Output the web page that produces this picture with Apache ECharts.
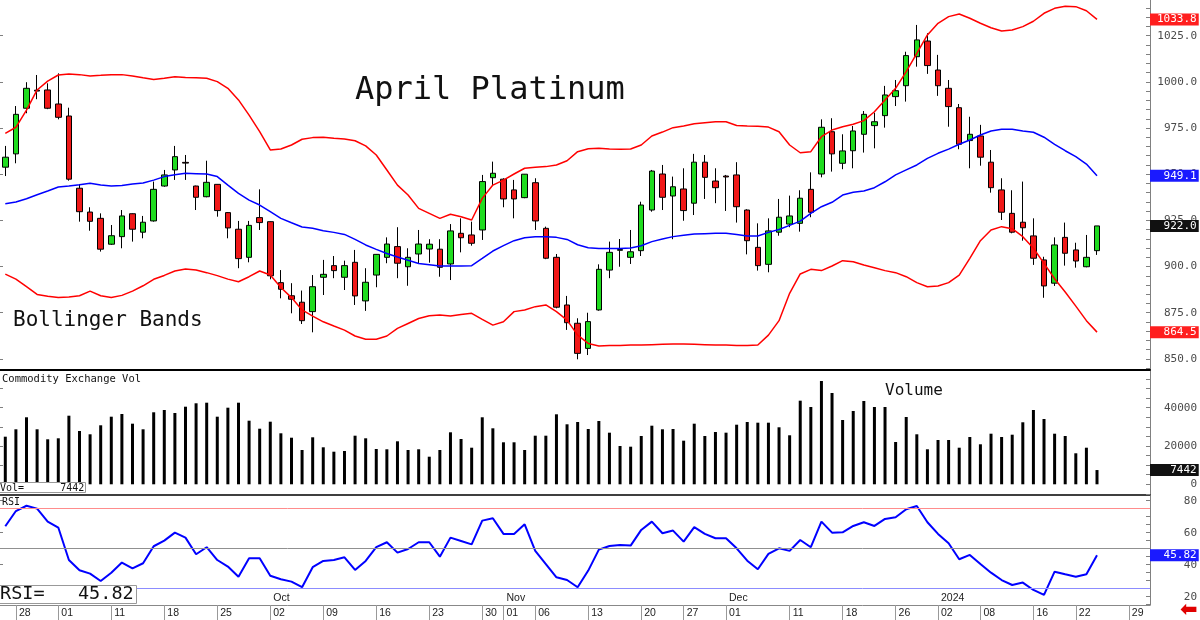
<!DOCTYPE html>
<html style="height: 100%">

<head>
    <meta charset="utf-8">
    <script src="https://cdn.jsdelivr.net/npm/echarts@6.0.0/dist/echarts.min.js"></script>
</head>

<body style="height: 100%; margin: 0; background: #fff">
    <div id="main" style="width: 1200px;height:620px;"></div>
    <script type="text/javascript">
        // trading calendar (exchange holidays left out)
        var holidays = ['2023-09-04', '2023-11-23', '2023-12-25', '2024-01-01', '2024-01-15'];
        var dates = [];
        for (var t = Date.UTC(2023, 7, 25); dates.length < 109; t += 86400000) {
            var d = new Date(t), s = d.toISOString().slice(0, 10);
            if (d.getUTCDay() % 6 !== 0 && holidays.indexOf(s) < 0) dates.push(s);
        }

        var tickDays = ['2023-08-28', '2023-09-01', '2023-09-11', '2023-09-18', '2023-09-25', '2023-10-02',
            '2023-10-09', '2023-10-16', '2023-10-23', '2023-10-30', '2023-11-01', '2023-11-06', '2023-11-13',
            '2023-11-20', '2023-11-27', '2023-12-01', '2023-12-11', '2023-12-18', '2023-12-26', '2024-01-02',
            '2024-01-08', '2024-01-16', '2024-01-22', '2024-01-29'];
        var monthDays = ['2023-10-02', '2023-11-01', '2023-12-01', '2024-01-02'];
        var monthNames = ['Oct', 'Nov', 'Dec', '2024'];

        var priceLabels = [850, 875, 900, 925, 950, 975, 1000, 1025];
        var volLabels = [0, 20000, 40000];
        var rsiLabels = [20, 40, 60, 80];

        // [open, close, low, high]
        var ohlc = [
            [953.8, 959.2, 949, 965.3], [961, 982.4, 955.9, 986.9], [985.7, 996.5, 983, 999.8], [995.5, 995, 990.6, 1003.7],
            [995.6, 985.7, 985.2, 999.2], [988, 980.8, 979.7, 1004.6], [981.5, 947.3, 946.5, 986], [942.4, 929.7, 924.3, 944.7],
            [929.5, 924.5, 919.4, 932.1], [926.1, 909.4, 908.1, 928.8], [912.1, 916.7, 911.7, 922.5], [916.2, 927.4, 909.9, 930.6],
            [928.6, 920.2, 913.5, 928.8], [918.6, 924, 915.3, 927.4], [924.7, 941.8, 924.3, 946], [943.6, 949.6, 943.2, 952.3],
            [952.3, 959.5, 946.9, 965.3], [956.4, 956, 946.9, 960.4], [943.6, 937.5, 930.6, 943.8], [937.8, 945.6, 937.5, 957.3],
            [944.5, 930.3, 927, 944.6], [929.2, 920.9, 915.3, 929.5], [920.2, 904.3, 899.1, 924.7], [905, 922.3, 902.3, 924.7],
            [926.5, 923.8, 919.8, 941.8], [924.3, 895, 893.1, 924.5], [891.3, 887.7, 882.8, 898.1], [884.2, 882.3, 874.7, 891],
            [880.7, 870.7, 868.9, 887], [875.6, 889.1, 864.4, 895.4], [894.2, 895.8, 884.6, 903.6], [900.5, 897.8, 893.7, 905.7],
            [894.2, 900.5, 887.3, 903.2], [902.3, 884.1, 879.2, 909], [881.4, 891.5, 876, 899.1], [895.4, 906.6, 888.8, 906.8],
            [905, 912.2, 901.8, 915.8], [910.8, 901.8, 893.7, 921.3], [899.9, 905, 889.6, 909.9], [906.8, 912.2, 901.8, 919.8],
            [909.5, 912.1, 902.1, 914.8], [909.4, 899.6, 894.5, 914.8], [901.4, 919.3, 892.7, 923], [918, 915.6, 907.7, 926.1],
            [917.1, 912.6, 911.3, 924.3], [919.8, 946, 914.4, 949.6], [948.1, 950.5, 944.2, 956.8], [947.3, 936.6, 932.1, 947.8],
            [941.5, 936.6, 926.1, 946.9], [937.3, 950, 937, 950.1], [945.4, 924.7, 919.8, 947.8], [920.7, 904.5, 904, 921.6],
            [905, 878, 877.4, 906.8], [879.2, 869.6, 865.7, 884.1], [869.3, 853, 849.8, 872], [855.7, 870.2, 852.1, 875],
            [876.5, 898.5, 876.1, 901.2], [898.1, 907.7, 893.7, 913.5], [908.8, 909.2, 899.9, 914.9], [905, 908, 901.4, 919.8],
            [908.6, 933.3, 905.7, 935.1], [930.6, 951.7, 929.7, 952.3], [950.1, 937.5, 930.6, 955], [938.2, 943.2, 914.8, 948.7],
            [942, 930.3, 924.8, 953.2], [934.3, 956.5, 927.9, 961], [956.5, 948.3, 936.6, 960.4], [946.3, 942.7, 934.3, 953.2],
            [949, 948.5, 930.1, 949.6], [949.6, 932.4, 923.8, 956.5], [930.6, 914, 906.6, 931], [910.4, 900.5, 897.8, 923.4],
            [901.2, 919.3, 896.9, 926.1], [918.6, 926.7, 916.7, 936.6], [923, 927.4, 921.3, 938.4], [923.4, 937, 918.9, 941.3],
            [941.8, 929.4, 926.7, 951], [950.1, 975.4, 948.3, 979.7], [973, 961, 951.4, 980.3], [955.9, 962.6, 952.7, 971.6],
            [962.7, 973.4, 953.2, 976.1], [971.6, 982.4, 961.7, 984.2], [976.3, 978.4, 964, 983.3], [981.7, 992.9, 975.2, 997.8],
            [992, 995.2, 986.9, 1001], [997.9, 1014.2, 989.3, 1016.3], [1013.6, 1022.7, 1008.2, 1030.8], [1022.1, 1008.8, 1004.3, 1026.3],
            [1006.4, 997.9, 992.4, 1014.6], [996.5, 986.6, 975.7, 1001], [986, 966.2, 963.5, 988], [968.2, 971.6, 953.2, 981.1],
            [970.7, 959.2, 954.6, 976.7], [956.5, 942.7, 940, 963.1], [941.5, 929.4, 925.2, 947.8], [928.8, 918.6, 918, 941.3],
            [924, 921, 914, 946], [916.6, 904.5, 900.9, 926.1], [903.6, 889.5, 883.1, 905.3], [891, 911.7, 889.5, 915.8],
            [915.8, 907.2, 900.5, 923.8], [909, 903, 899.4, 912.9], [899.9, 905, 899.6, 917.1], [908.6, 922, 906.3, 922]
        ];

        var upper = [972.1, 975.4, 984.7, 995.6, 1000.4, 1003.7, 1004.2, 1003.9, 1003.2, 1003.5,
            1003.9, 1003.9, 1003.2, 1002.2, 1001.3, 1001.9, 1002.8, 1002.4, 1002.2, 1001.9,
            1000.1, 996.5, 990.2, 982, 973, 963.1, 963.6, 965.8, 968.9, 969.8,
            970, 969.4, 969.1, 968.1, 965.3, 960.4, 952.3, 944.1, 938.7, 931.5,
            928.8, 926.1, 928.3, 927, 925.2, 936.9, 944.1, 946.8, 950.1, 953.2,
            953.7, 954.1, 955, 957.3, 962.2, 963.8, 964, 963.6, 963.5, 963.6,
            965.8, 970.7, 972.8, 975.2, 976.1, 977.3, 977.9, 978.4, 978.4, 976.4,
            976.1, 975.9, 975.5, 973, 965.8, 961.6, 962.2, 970.3, 973.9, 975.7,
            977, 979, 983.8, 990.2, 996.5, 1005.5, 1015.4, 1025.4, 1031.7, 1035.3,
            1036.7, 1034.4, 1031.7, 1029.3, 1027.5, 1028.1, 1029.9, 1032.8, 1037.1, 1039.8,
            1040.9, 1040.7, 1038.5, 1033.8];
        var middle = [934, 934.9, 936.7, 938.9, 940.9, 943.1, 943.6, 944.3, 945.1, 944.1,
            943.6, 943.9, 944.7, 945.2, 946.8, 948.7, 949.7, 950.5, 950.3, 950.1,
            948.7, 944.1, 939.6, 936, 933.3, 929.7, 926.1, 923.7, 921.4, 920.7,
            919.4, 918.5, 917.4, 914.7, 911.7, 909.3, 907.1, 905.2, 903.4, 901.7,
            901, 900.3, 900.3, 900.3, 900.5, 904.4, 908.4, 911.3, 914, 915.6,
            916.2, 916.2, 915.8, 914.7, 911.8, 910.2, 909.8, 909.8, 909.8, 910,
            911.3, 913.5, 914.9, 916.2, 916.9, 917.6, 917.8, 918, 918, 917.4,
            916.5, 916.5, 918.5, 920.1, 922.3, 924.6, 928.8, 932.4, 934.8, 938.7,
            940.2, 940.9, 942.7, 945.9, 949.6, 952.3, 955, 958.6, 961.3, 963.6,
            966.2, 968.5, 971.2, 973.4, 974.3, 974.3, 973.4, 972.7, 970, 966.2,
            962.7, 959.5, 955.5, 949.1];
        var lower = [895.9, 893.2, 889.1, 884.9, 883.9, 883.2, 883.5, 884.2, 886.7, 884.2,
            883.2, 884.4, 886.7, 889.6, 893.1, 895.2, 897.6, 898.7, 898.1, 896.7,
            895.1, 893.2, 891.8, 894.5, 897.6, 895.4, 888.7, 883.2, 876.5, 873.2,
            870.1, 867.8, 865.6, 862.4, 860.6, 860.6, 862.4, 866.5, 869.2, 871.9,
            873.4, 873.8, 873.2, 874.1, 874.7, 871.4, 868.3, 870.1, 875.6, 876.5,
            878.3, 879.2, 875.6, 871, 862.9, 858.4, 857, 857.2, 857.3, 857.5,
            857.5, 857.7, 857.9, 858.1, 858.1, 857.9, 857.7, 857.5, 857.5, 857.3,
            857.2, 857.5, 862.9, 870.7, 885.5, 896, 898.5, 897.8, 900.3, 903.2,
            902.6, 900.8, 899.4, 897.8, 896.7, 894.5, 891.3, 889.1, 889.5, 891.3,
            895.4, 904.4, 914, 919.8, 921.6, 920.5, 916.2, 909.9, 901.7, 893.4,
            886.2, 878.6, 870.7, 864.5];

        var volume = [24860, 28720, 34990, 28720, 23500, 24020, 35820, 27830, 26110, 30810,
            35300, 36710, 31650, 28720, 37600, 38800, 37230, 40520, 42300, 42610,
            35300, 40000, 42610, 33210, 29030, 32690, 26630, 24330, 17910, 24540,
            19320, 17020, 17390, 25380, 24020, 18430, 18280, 22450, 17910, 18280,
            14410, 17910, 27150, 23660, 19110, 34990, 29240, 21930, 21930, 17910,
            25380, 25380, 36550, 31330, 32530, 28880, 33050, 26950, 20000, 19640,
            25220, 30600, 28720, 28880, 22770, 31650, 25220, 27310, 26950, 31120,
            32530, 32170, 32170, 29770, 25590, 43660, 40370, 53940, 47680, 33580,
            38280, 43500, 40370, 40370, 22090, 35140, 26110, 18280, 23130, 23130,
            19110, 24700, 20890, 26420, 24700, 25900, 32380, 38800, 34100, 26420,
            25220, 16190, 19110, 7442];

        var rsi = [64, 73.5, 76.8, 75, 66.9, 63.2, 42.9, 36.5, 34.4, 29.8,
            35, 41.3, 37.7, 40.9, 51.5, 55, 60, 56.9, 46.5, 50.9,
            42.9, 38.8, 32.5, 44, 44, 33.1, 30.9, 29.4, 25.9, 38.4,
            42.3, 42.9, 44.6, 36.7, 42.3, 50.9, 54, 47.5, 49.8, 54,
            54, 45, 56.9, 54.8, 52.7, 67.5, 69, 59.2, 59.2, 65.2,
            48.6, 40.4, 32.1, 30.4, 25.9, 36.3, 49.4, 51.7, 52.3, 51.9,
            61.7, 66.9, 59.6, 61.3, 54.4, 63.4, 59.2, 56.5, 56.5, 50.2,
            42.5, 37.1, 46.7, 50.2, 48.6, 55.4, 50.9, 66.9, 60, 60.2,
            64.2, 66.5, 64.2, 68.6, 69.6, 74.6, 76.7, 66.5, 59.2, 53.4,
            43.4, 46.1, 40.4, 35, 30.4, 27.3, 28.8, 24.2, 21.1, 35.6,
            34, 32.5, 34, 45.82];

        var mono = '"DejaVu Sans Mono", monospace';
        var sans = '"Liberation Sans", Arial, sans-serif';
        var last = ohlc.length - 1;
        var tickIdx = tickDays.map(function (d) { return dates.indexOf(d); });
        var monthIdx = monthDays.map(function (d) { return dates.indexOf(d); });

        function steps(a, b, st) {
            var out = [];
            for (var v = a; v <= b; v += st) out.push(v);
            return out;
        }
        function line(arr) {
            return arr.map(function (v, i) { return [i, v]; });
        }
        // value tag sitting on the right axis
        function tag(value, bg, digits) {
            return {
                yAxis: value,
                lineStyle: { color: 'rgba(0,0,0,0)', width: 0 },
                label: {
                    show: true, position: 'end', distance: 0,
                    formatter: function () { return value.toFixed(digits).padStart(6); },
                    backgroundColor: bg, color: '#fff', fontFamily: mono, fontSize: 11,
                    padding: [1, 2, 0, 7], lineHeight: 11
                }
            };
        }
        function marks(items) {
            return { silent: true, symbol: ['none', 'none'], animation: false, data: items };
        }
        function rightAxis(grid, min, max, labels, ticks, fmt) {
            return {
                type: 'value', gridIndex: grid, position: 'right', min: min, max: max,
                axisLine: { show: true, onZero: false, lineStyle: { color: '#808080' } },
                axisTick: { show: true, inside: true, length: 4, customValues: ticks, lineStyle: { color: '#808080' } },
                axisLabel: {
                    customValues: labels, formatter: fmt, align: 'right', margin: 47,
                    color: '#4a4a4a', fontFamily: mono, fontSize: 11
                },
                splitLine: { show: false }
            };
        }
        function leftAxis(grid, min, max, ticks) {
            return {
                type: 'value', gridIndex: grid, position: 'left', min: min, max: max,
                axisLine: { show: false, onZero: false },
                axisTick: { show: true, inside: true, length: 3, customValues: ticks, lineStyle: { color: '#808080' } },
                axisLabel: { show: false },
                splitLine: { show: false }
            };
        }
        function xAxisFor(grid, lineColor, lineWidth) {
            return {
                type: 'value', gridIndex: grid, position: 'bottom', min: -0.5, max: 108,
                axisLine: { show: true, onZero: false, lineStyle: { color: lineColor, width: lineWidth } },
                axisTick: { show: false }, axisLabel: { show: false }, splitLine: { show: false }
            };
        }
        function text(str, left, top, size, extra) {
            var o = {
                text: str, left: left, top: top, padding: 0,
                textStyle: { fontFamily: mono, fontSize: size, fontWeight: 'normal', color: '#111' }
            };
            for (var k in extra) o[k] = extra[k];
            return o;
        }

        var xRsi = xAxisFor(2, '#888', 1);
        xRsi.axisTick = { show: true, customValues: tickIdx, length: 15, lineStyle: { color: '#999' } };
        xRsi.axisLabel = {
            show: true, customValues: tickIdx, align: 'left', padding: [0, 0, 0, 3], margin: 3,
            formatter: function (v) { return dates[Math.round(v)].slice(8, 10); },
            color: '#222', fontFamily: sans, fontSize: 10.5
        };
        var xMonth = xAxisFor(2, '#888', 1);
        xMonth.axisLine = { show: false, onZero: false };
        xMonth.axisLabel = {
            show: true, inside: true, customValues: monthIdx, align: 'left', padding: [0, 0, 0, 3], margin: 1,
            formatter: function (v) { return monthNames[monthIdx.indexOf(Math.round(v))]; },
            color: '#222', fontFamily: sans, fontSize: 10.5
        };

        var myChart = echarts.init(document.getElementById('main'));
        myChart.setOption({
            animation: false,
            backgroundColor: '#fff',
            title: [
                text('April Platinum', 355, 75, 32),
                text('Bollinger Bands', 13, 310, 21),
                text('Commodity Exchange Vol', 2, 374, 10.5),
                text('Volume', 885, 383, 16),
                text('RSI', 2, 497, 10),
                text('Vol=' + String(volume[last]).padStart(10), -1, 482, 10,
                    { padding: [1, 1, 0, 1], backgroundColor: '#fff', borderColor: '#999', borderWidth: 1 }),
                text('RSI=' + rsi[last].toFixed(2).padStart(8), -1, 585, 18.5,
                    { padding: [0, 3, 0, 1], backgroundColor: '#fff', borderColor: '#999', borderWidth: 1 }),
                { text: '\u2B05', left: 1180, top: 600, padding: 0, textStyle: { color: '#e00000', fontSize: 21, fontFamily: '"DejaVu Sans"' } }
            ],
            grid: [
                { left: 0, right: 50, top: 0, height: 370, outerBoundsMode: 'none' },
                { left: 0, right: 50, top: 371, height: 124, outerBoundsMode: 'none' },
                { left: 0, right: 50, top: 496, height: 109, outerBoundsMode: 'none' }
            ],
            xAxis: [xAxisFor(0, '#000', 2), xAxisFor(1, '#000', 1.5), xRsi, xMonth],
            yAxis: [
                rightAxis(0, 844, 1044.3, priceLabels, steps(845, 1040, 5), function (v) { return v.toFixed(1); }),
                leftAxis(0, 844, 1044.3, priceLabels),
                rightAxis(1, -5590, 59160, volLabels, steps(-5000, 55000, 5000), function (v) { return String(v); }),
                leftAxis(1, -5590, 59160, steps(0, 50000, 10000)),
                rightAxis(2, 14.8, 82.9, rsiLabels, steps(15, 80, 5), function (v) { return String(v); }),
                leftAxis(2, 14.8, 82.9, rsiLabels)
            ],
            series: [
                {
                    type: 'line', xAxisIndex: 0, yAxisIndex: 0, data: line(upper),
                    showSymbol: false, lineStyle: { color: '#ff0000', width: 1.5 },
                    markLine: marks([tag(upper[last], '#ff1e1e', 1)])
                },
                {
                    type: 'line', xAxisIndex: 0, yAxisIndex: 0, data: line(middle),
                    showSymbol: false, lineStyle: { color: '#0000ff', width: 1.5 },
                    markLine: marks([tag(middle[last], '#1a1aff', 1)])
                },
                {
                    type: 'line', xAxisIndex: 0, yAxisIndex: 0, data: line(lower),
                    showSymbol: false, lineStyle: { color: '#ff0000', width: 1.5 },
                    markLine: marks([tag(lower[last], '#ff1e1e', 1)])
                },
                {
                    type: 'candlestick', xAxisIndex: 0, yAxisIndex: 0,
                    data: ohlc.map(function (c, i) { return [i, c[0], c[1], c[2], c[3]]; }),
                    encode: { x: 0, y: [1, 2, 3, 4] },
                    barWidth: 6,
                    itemStyle: { color: '#1fdc1f', color0: '#f01818', borderColor: '#000', borderColor0: '#000', borderWidth: 1 },
                    markLine: marks([tag(ohlc[last][1], '#111', 1)])
                },
                {
                    type: 'bar', xAxisIndex: 1, yAxisIndex: 2, data: line(volume),
                    barWidth: 3, itemStyle: { color: '#000' },
                    markLine: marks([tag(volume[last], '#111', 0)])
                },
                {
                    type: 'line', xAxisIndex: 2, yAxisIndex: 4, data: line(rsi),
                    showSymbol: false, lineStyle: { color: '#0000ff', width: 2 },
                    markLine: marks([
                        { yAxis: 75, lineStyle: { color: '#ff8c8c', width: 1, type: 'solid' }, label: { show: false } },
                        { yAxis: 50, lineStyle: { color: '#909090', width: 1, type: 'solid' }, label: { show: false } },
                        { yAxis: 25, lineStyle: { color: '#8c8cff', width: 1, type: 'solid' }, label: { show: false } },
                        tag(rsi[last], '#1a1aff', 2)
                    ])
                }
            ]
        });
    </script>
</body>

</html>
